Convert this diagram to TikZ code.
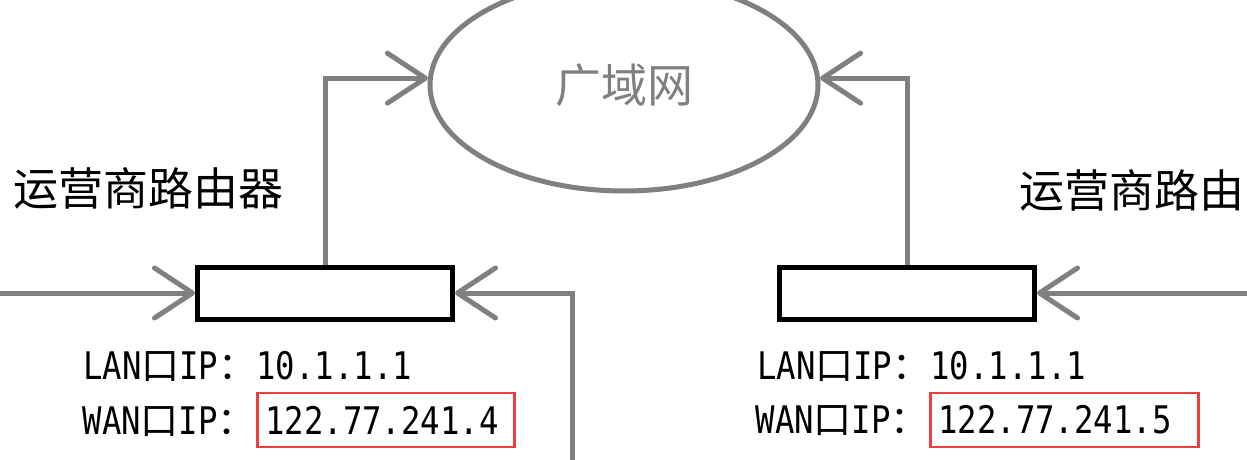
\documentclass[tikz,border=0pt]{standalone}
\usepackage{fontspec}
\setmainfont{Noto Sans CJK SC}
\newfontfamily\ipfont[FakeStretch=0.85]{DejaVu Sans Mono}
\usepackage{tikz}
\usetikzlibrary{shapes.geometric, arrows.meta, positioning}
\usepackage{xcolor}
\definecolor{cLine}{RGB}{128,128,128}
\definecolor{cRed}{RGB}{238,62,62}
\newcommand{\iptxt}[1]{{\ipfont #1}}
\tikzset{
  routerbox/.style={rectangle, draw=black, line width=5pt, fill=white,
                    minimum width=255pt, minimum height=52pt, inner sep=0pt},
  cloudnode/.style={ellipse, draw=cLine, line width=5pt, text=cLine,
                    minimum width=388pt, minimum height=212pt, inner sep=0pt,
                    font=\fontsize{46}{48}\selectfont},
  titletext/.style={anchor=west, inner sep=0pt,
                    font=\fontsize{45}{48}\selectfont},
  iplabel/.style={inner sep=0pt, font=\fontsize{38}{40}\selectfont},
  ipbox/.style={iplabel, anchor=west, draw=cRed, line width=2.5pt,
                minimum height=54pt, inner xsep=8pt, align=left},
  linkarrow/.style={-{Straight Barb[length=38pt, width=50pt, round]},
                    draw=cLine, line width=5pt}
}
\begin{document}
\begin{tikzpicture}[x=1pt, y=-1pt]
  \useasboundingbox (0,0) rectangle (1247,460);

  % wide area network
  \node[cloudnode] (wan) at (624,85) {广域网};

  % the two routers
  \node[routerbox] (lbox) at (325,293) {};
  \node[routerbox] (rbox) at (907,293) {};
  \node[titletext] (ltitle) at (13,188) {运营商路由器};
  \node[titletext] (rtitle) at (1019,190) {运营商路由};

  % addresses, left
  \node[iplabel, anchor=base west] (llan) at (83,379)
    {\iptxt{LAN}口\iptxt{IP}：\iptxt{10.1.1.1}};
  \node[ipbox, text width=241pt] (lip) at (256,420) {\iptxt{122.77.241.4}};
  \node[iplabel, base left=0pt of lip] (lwan) {\iptxt{WAN}口\iptxt{IP}：};

  % addresses, right
  \node[iplabel, anchor=base west] (rlan) at (757,379)
    {\iptxt{LAN}口\iptxt{IP}：\iptxt{10.1.1.1}};
  \node[ipbox, text width=252pt] (rip) at (929,420) {\iptxt{122.77.241.5}};
  \node[iplabel, base left=0pt of rip] (rwan) {\iptxt{WAN}口\iptxt{IP}：};

  % links
  \coordinate (lsrc) at (0,293);
  \coordinate (lfeed) at (572,460);
  \coordinate (rsrc) at (1247,293);
  \draw[linkarrow] (lsrc) -- (lbox.west);
  \draw[linkarrow] (lfeed) |- (lbox.east);
  \draw[linkarrow] (rsrc) -- (rbox.east);
  \draw[linkarrow] (lbox.north) |- (wan.178);
  \draw[linkarrow] (rbox.north) |- (wan.2);
\end{tikzpicture}
\end{document}
